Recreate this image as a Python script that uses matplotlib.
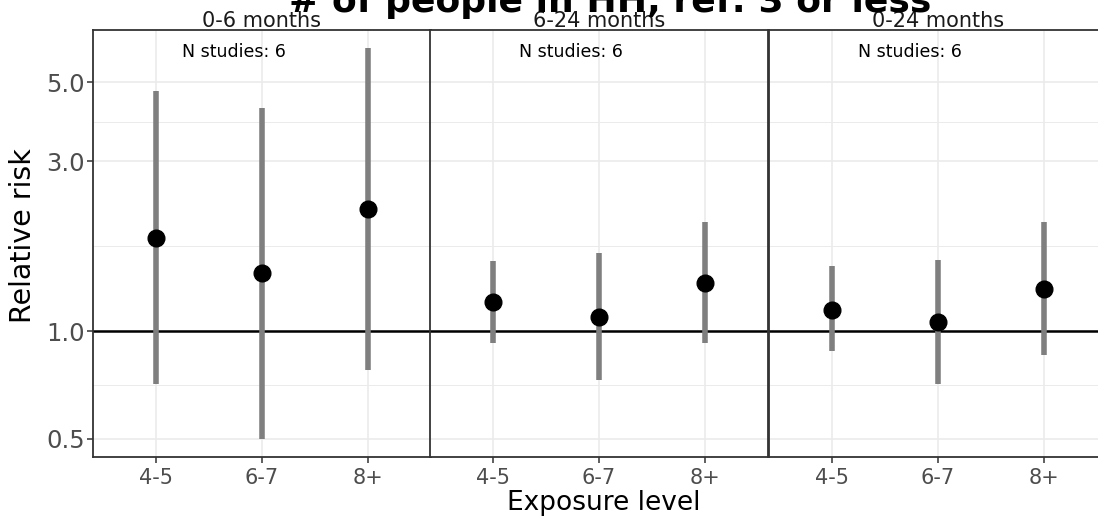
import numpy as np
import matplotlib
matplotlib.use('Agg')
from matplotlib import pyplot as plt
from matplotlib.ticker import FixedLocator, NullFormatter

# Data:
panels = ['0-6 months', '6-24 months', '0-24 months']
exposure = ['4-5', '6-7', '8+']
n_studies = [6, 6, 6]

rr_0_6 = [1.83, 1.46, 2.21]
lo_0_6 = [0.71, 0.50, 0.78]
hi_0_6 = [4.72, 4.23, 6.24]

rr_6_24 = [1.21, 1.095, 1.37]
lo_6_24 = [0.93, 0.73, 0.925]
hi_6_24 = [1.57, 1.66, 2.02]

rr_0_24 = [1.15, 1.06, 1.31]
lo_0_24 = [0.878, 0.713, 0.856]
hi_0_24 = [1.52, 1.58, 2.02]

estimates = [rr_0_6, rr_6_24, rr_0_24]
lowers = [lo_0_6, lo_6_24, lo_0_24]
uppers = [hi_0_6, hi_6_24, hi_0_24]

title = '# of people in HH, ref: 3 or less'

W, H = 1098, 519
fig = plt.figure(figsize=(W / 100, H / 100), dpi=100)

# Panel boxes (pixels): left edges, width, top, bottom
lefts = [93, 430, 769]
pw = 338
top, bottom = 30, 457

x = np.arange(1, len(exposure) + 1)
major = [0.5, 1.0, 3.0, 5.0]
minor = [np.sqrt(0.5), np.sqrt(3.0), np.sqrt(15.0)]

for i, name in enumerate(panels):
    ax = fig.add_axes([lefts[i] / W, 1 - bottom / H, pw / W, (bottom - top) / H])
    ax.set_yscale('log')
    ax.set_ylim(0.444, 7.0)
    ax.set_xlim(0.4, 3.6)

    ax.yaxis.set_major_locator(FixedLocator(major))
    ax.yaxis.set_minor_locator(FixedLocator(minor))
    ax.yaxis.set_minor_formatter(NullFormatter())
    ax.set_xticks(x)
    ax.set_xticklabels(exposure, fontsize=15, color='#4D4D4D')

    ax.grid(True, which='major', color='#EBEBEB', linewidth=1.2, zorder=0)
    ax.grid(True, which='minor', axis='y', color='#EBEBEB', linewidth=0.7, zorder=0)
    ax.set_axisbelow(True)

    for s in ax.spines.values():
        s.set_color('#333333')
        s.set_linewidth(1.3)

    ax.tick_params(axis='both', which='major', length=4, color='#333333', width=1.1)
    ax.tick_params(axis='y', which='minor', length=0)
    ax.tick_params(axis='x', pad=4)

    if i == 0:
        ax.set_yticklabels(['0.5', '1.0', '3.0', '5.0'])
        ax.tick_params(axis='y', labelsize=17.5, labelcolor='#4D4D4D', pad=2)
    else:
        ax.tick_params(axis='y', which='both', length=0, labelleft=False)

    ax.axhline(1.0, color='black', linewidth=1.8, zorder=2)

    est = np.array(estimates[i])
    lo = np.array(lowers[i])
    hi = np.array(uppers[i])
    ax.vlines(x, lo, hi, color='#7F7F7F', linewidth=4, zorder=3)
    ax.plot(x, est, 'o', color='black', markersize=12, zorder=4)

    ax.text(1.73, 6.08, 'N studies: %d' % n_studies[i], ha='center', va='center',
            fontsize=12.5, color='black')
    fig.text((lefts[i] + pw / 2) / W, 1 - 27 / H, name, ha='center', va='baseline',
             fontsize=15, color='#1A1A1A')

fig.text(610 / W, 1 - 12 / H, title, ha='center', va='baseline',
         fontsize=26, fontweight='bold')
fig.text(604 / W, 1 - 510 / H, 'Exposure level', ha='center', va='baseline',
         fontsize=19)
fig.text(23 / W, 1 - 236 / H, 'Relative risk', ha='center', va='center',
         rotation=90, fontsize=20.5)

plt.savefig('out.png', dpi=100)
